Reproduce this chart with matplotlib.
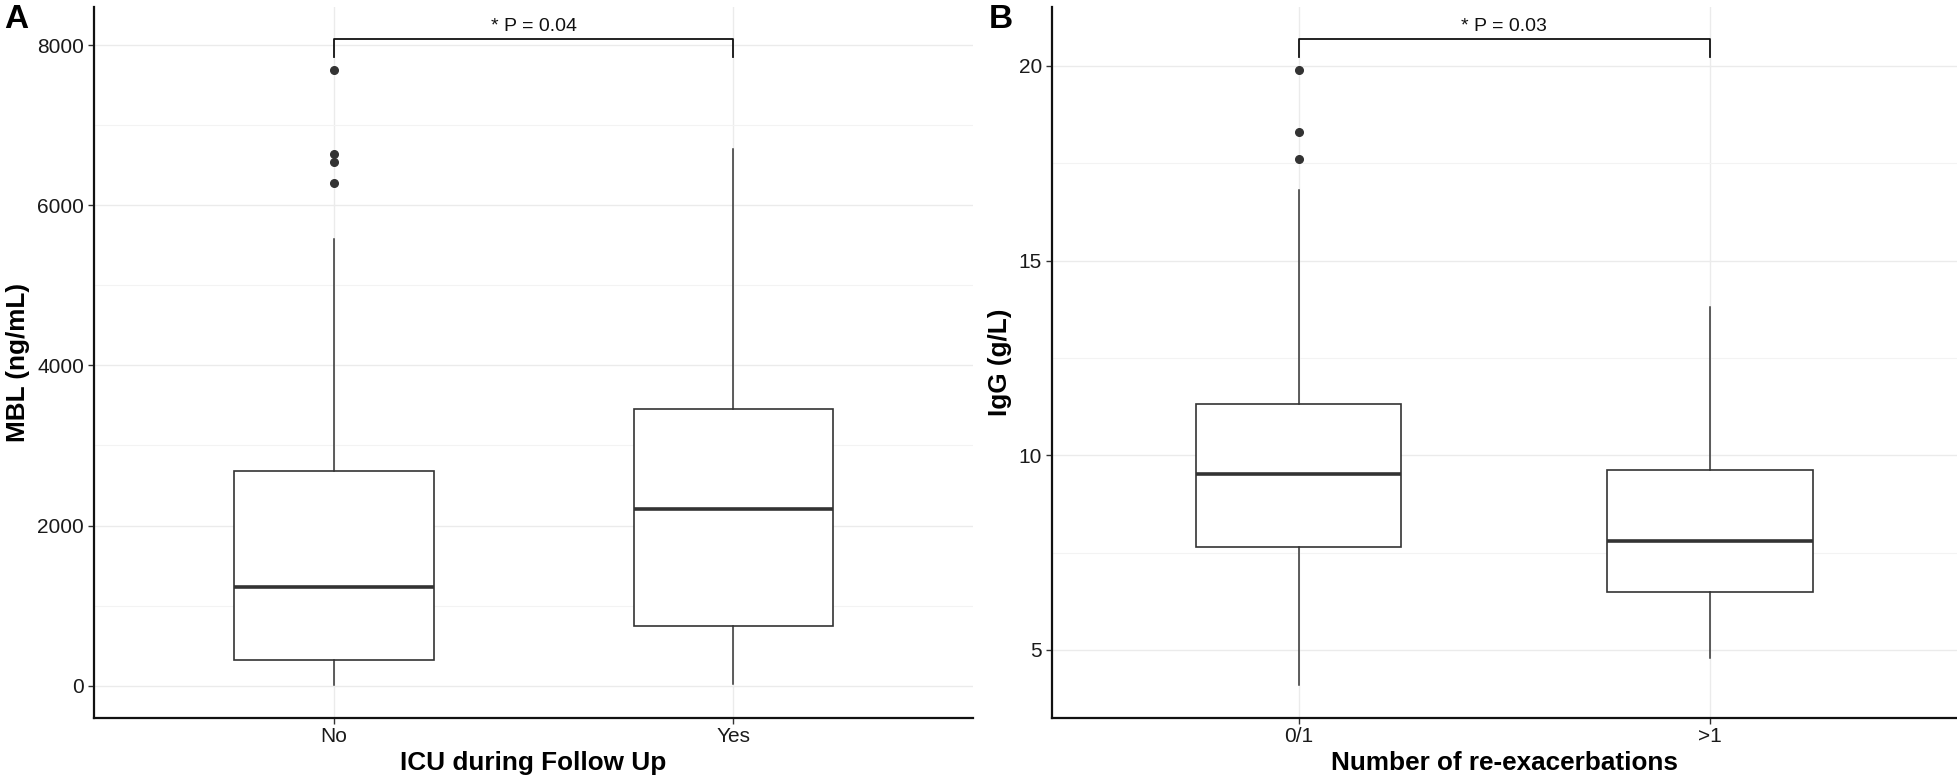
import matplotlib
matplotlib.use('Agg')
import matplotlib.pyplot as plt

plt.rcParams['font.family'] = ['Liberation Sans', 'DejaVu Sans']

# panel A: MBL by ICU admission during follow up
icu_groups = ['No', 'Yes']
mbl_low = [10, 20]
mbl_q1 = [320, 750]
mbl_med = [1230, 2210]
mbl_q3 = [2680, 3455]
mbl_high = [5580, 6700]
mbl_outliers = [[6275, 6540, 6635, 7690], []]
mbl_p = '* P = 0.04'

# panel B: IgG by number of re-exacerbations
exac_groups = ['0/1', '>1']
igg_low = [4.1, 4.8]
igg_q1 = [7.64, 6.5]
igg_med = [9.53, 7.81]
igg_q3 = [11.32, 9.62]
igg_high = [16.8, 13.8]
igg_outliers = [[17.6, 18.3, 19.9], []]
igg_p = '* P = 0.03'

W, H = 1958, 778
fig = plt.figure(figsize=(W / 100, H / 100), dpi=100)
axA = fig.add_axes([93.7 / W, 1 - 717.7 / H, 879.7 / W, 710.7 / H])
axB = fig.add_axes([1051.7 / W, 1 - 717.7 / H, 905.3 / W, 710.7 / H])

line_col = '#333333'


def draw_panel(ax, groups, low, q1, med, q3, high, fliers, ylim, major,
               minor, bracket, ptext, xlabel, ylabel, letter, letter_x):
    stats = []
    for i, g in enumerate(groups):
        stats.append({'label': g, 'whislo': low[i], 'q1': q1[i],
                      'med': med[i], 'q3': q3[i], 'whishi': high[i],
                      'fliers': fliers[i]})
    ax.bxp(stats, positions=[1, 2], widths=0.5, showcaps=False,
           patch_artist=True,
           boxprops=dict(facecolor='white', edgecolor=line_col, lw=1.2),
           medianprops=dict(color=line_col, lw=2.6),
           whiskerprops=dict(color=line_col, lw=1.1),
           flierprops=dict(marker='o', markersize=5.5,
                           markerfacecolor=line_col,
                           markeredgecolor=line_col),
           zorder=3)
    ax.set_xlim(0.4, 2.6)
    ax.set_ylim(*ylim)
    ax.set_yticks(major)
    ax.set_yticks(minor, minor=True)
    ax.set_xticks([1, 2], groups)
    ax.set_axisbelow(True)
    ax.grid(axis='y', which='major', color='#EBEBEB', lw=1.0)
    ax.grid(axis='y', which='minor', color='#F3F3F3', lw=0.8)
    ax.grid(axis='x', which='major', color='#EBEBEB', lw=1.0)
    ax.tick_params(which='minor', left=False)
    ax.tick_params(which='major', direction='out', length=4, width=1,
                   color=line_col, labelsize=15, labelcolor='#1a1a1a',
                   pad=3)
    for s in ['top', 'right']:
        ax.spines[s].set_visible(False)
    for s in ['left', 'bottom']:
        ax.spines[s].set_color('#111111')
        ax.spines[s].set_linewidth(1.6)
    b_low, b_top = bracket
    ax.plot([1, 1, 2, 2], [b_low, b_top, b_top, b_low], color='#111111',
            lw=1.3, clip_on=False, zorder=4)
    ax.annotate(ptext, xy=(1.5, b_top), xytext=(0, 3),
                textcoords='offset points', ha='center', va='bottom',
                fontsize=14, color='#111111')
    ax.set_xlabel(xlabel, fontsize=18.8, fontweight='bold', labelpad=3)
    ax.set_ylabel(ylabel, fontsize=18.8, fontweight='bold', labelpad=5)
    fig.text(letter_x / W, 1 - 4 / H, letter, fontsize=24,
             fontweight='bold', ha='left', va='top')


draw_panel(axA, icu_groups, mbl_low, mbl_q1, mbl_med, mbl_q3, mbl_high,
           mbl_outliers, (-400, 8475), [0, 2000, 4000, 6000, 8000],
           [1000, 3000, 5000, 7000], (7846, 8075), mbl_p,
           'ICU during Follow Up', 'MBL (ng/mL)', 'A', 4)
draw_panel(axB, exac_groups, igg_low, igg_q1, igg_med, igg_q3, igg_high,
           igg_outliers, (3.26, 21.51), [5, 10, 15, 20],
           [7.5, 12.5, 17.5], (20.22, 20.69), igg_p,
           'Number of re-exacerbations', 'IgG (g/L)', 'B', 989)

fig.savefig('out.png', dpi=100)
